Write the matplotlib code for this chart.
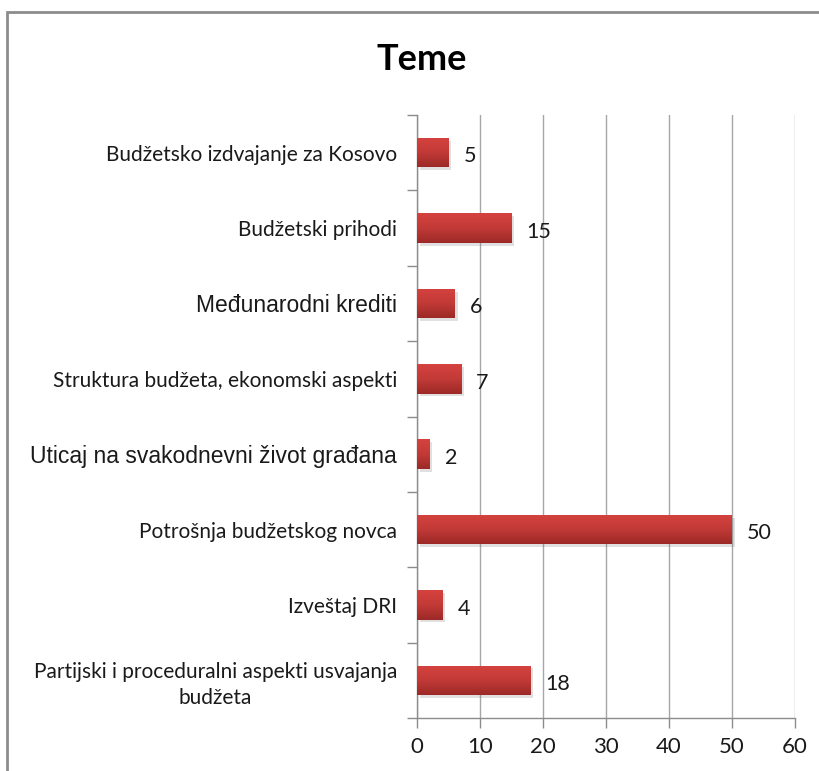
import matplotlib
matplotlib.use("Agg")
import matplotlib.pyplot as plt
import numpy as np
from matplotlib import patheffects as pe
from matplotlib.patches import Rectangle
from matplotlib.colors import LinearSegmentedColormap

categories = [
    "Budžetsko izdvajanje za Kosovo",
    "Budžetski prihodi",
    "Međunarodni krediti",
    "Struktura budžeta, ekonomski aspekti",
    "Uticaj na svakodnevni život građana",
    "Potrošnja budžetskog novca",
    "Izveštaj DRI",
    "Partijski i proceduralni aspekti usvajanja\nbudžeta",
]
values = [5, 15, 6, 7, 2, 50, 4, 18]
xticks = [0, 10, 20, 30, 40, 50, 60]
arial_labels = {"Međunarodni krediti", "Uticaj na svakodnevni život građana"}

FONT = "Lato"

fig = plt.figure(figsize=(8.2, 7.71), dpi=100)
fig.patch.set_facecolor("white")
# outer frame
fig.patches.append(Rectangle((7 / 820, -0.1), 1.2, (771 - 12) / 771 + 0.1,
                             transform=fig.transFigure, fill=False,
                             edgecolor="#8c8c8c", linewidth=2.0))

ax = fig.add_axes([417 / 820, 53 / 771, 378 / 820, 603 / 771])
y = np.arange(len(categories))
bars = ax.barh(y, values, height=0.39, color="#bd3533", zorder=3,
               path_effects=[pe.SimplePatchShadow(offset=(2, -2), alpha=0.2, shadow_rgbFace="#666666"),
                             pe.Normal()])

grad = np.linspace(0, 1, 100).reshape(-1, 1)
cmap = LinearSegmentedColormap.from_list("bar", ["#d5423f", "#c23a37", "#9c2927"])
for b in bars:
    x0, y0 = b.get_x(), b.get_y()
    w, h = b.get_width(), b.get_height()
    im = ax.imshow(grad, extent=(x0, x0 + w, y0 + h, y0), aspect="auto",
                   cmap=cmap, zorder=4, origin="upper")
    im.set_clip_path(b)

for yi, v in zip(y, values):
    ax.text(v + 2.4, yi + 0.05, str(v), va="center", ha="left",
            fontsize=15.5, family=FONT, color="#1a1a1a", zorder=5)

ax.set_xlim(0, 60)
ax.set_ylim(len(categories) - 0.5, -0.5)
ax.set_xticks(xticks)
ax.set_xticklabels([str(t) for t in xticks], family=FONT, fontsize=16, color="#1a1a1a")
ax.set_yticks(np.arange(len(categories) + 1) - 0.5)
ax.set_yticklabels([])
ax.set_yticks(y, minor=True)
ax.set_yticklabels(categories, minor=True)
for lbl in ax.get_yticklabels(minor=True):
    txt = lbl.get_text()
    if txt in arial_labels:
        lbl.set_family("Liberation Sans")
        lbl.set_fontsize(16.5)
    else:
        lbl.set_family(FONT)
        lbl.set_fontsize(15)
    lbl.set_multialignment("center")
    lbl.set_linespacing(1.35)
    lbl.set_color("#1a1a1a")
ax.tick_params(axis="y", which="minor", length=0, pad=14.4)
ax.tick_params(axis="y", which="major", length=7, color="#8c8c8c", width=1)
ax.tick_params(axis="x", length=7, color="#8c8c8c", width=1, pad=7)

ax.grid(axis="x", color="#a6a6a6", linewidth=1, zorder=0)
ax.set_axisbelow(True)
for s in ["top", "right"]:
    ax.spines[s].set_visible(False)
for s in ["left", "bottom"]:
    ax.spines[s].set_color("#8c8c8c")
    ax.spines[s].set_linewidth(1)

fig.text(422 / 820, 1 - 60 / 771, "Teme", ha="center", va="center",
         fontsize=26, fontweight="bold", family=FONT, color="black")

fig.savefig("out.png", dpi=100, facecolor="white")
